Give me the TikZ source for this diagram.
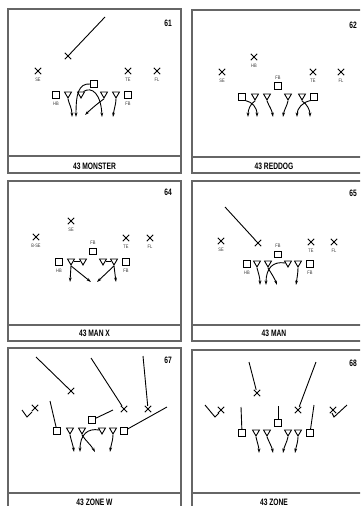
\documentclass[tikz,border=0pt]{standalone}
\usepackage{fontspec}
\usetikzlibrary{shapes.geometric,shapes.misc,arrows.meta}
\newfontfamily\capfamily[FakeStretch=0.72]{Liberation Sans}
\newfontfamily\labfamily[FakeStretch=0.8]{Liberation Sans}
\tikzset{
 pl/.style={draw, line width=0.9pt, inner sep=0pt},
 xm/.style={pl, cross out, minimum size=5.5pt},
 sq/.style={pl, rectangle, minimum size=6.3pt},
 tri/.style={pl, regular polygon, regular polygon sides=3, shape border rotate=180, minimum size=8pt},
 lab/.style={font=\labfamily\fontsize{5}{5}\selectfont, inner sep=0pt, text=black!80},
 mv/.style={line width=0.9pt, -{Stealth[length=4.5pt,width=2.8pt]}},
 ln/.style={line width=0.9pt},
 pframe/.style={draw=black!60, line width=1.3pt},
 sepl/.style={draw=black!60, line width=1.1pt},
 captxt/.style={font=\capfamily\bfseries\fontsize{9.3}{10}\selectfont, inner sep=0pt},
 numtxt/.style={font=\capfamily\bfseries\fontsize{9.3}{10}\selectfont, inner sep=0pt},
}
\begin{document}
\begin{tikzpicture}[x=1pt,y=-1pt]
\useasboundingbox (0,0) rectangle (360,506);
\clip (0,0) rectangle (360,506);
% frames
\draw[pframe] (8,9) rectangle (181,173);
\draw[sepl] (8,156) -- (181,156);
\draw[pframe] (192,10) rectangle (364,173);
\draw[sepl] (192,157) -- (364,157);
\draw[pframe] (8,181) rectangle (181,341);
\draw[sepl] (8,325) -- (181,325);
\draw[pframe] (192,181) rectangle (364,341);
\draw[sepl] (192,325) -- (364,325);
\draw[pframe] (8,348) rectangle (181,515);
\draw[sepl] (8,493) -- (181,493);
\draw[pframe] (192,350) rectangle (364,515);
\draw[sepl] (192,493) -- (364,493);

% ===== Panel 61 =====
\node[numtxt] (n61) at (168,23) {61};
\node[captxt] (c61) at (94.5,166) {43 MONSTER};
\node[xm] (a-x) at (68,56) {};
\coordinate (a-xe) at (105,17);
\draw[ln] (a-x) -- (a-xe);
\node[xm] (a-se) at (38,71) {};
\node[lab] (a-sel) at (38,79.5) {SE};
\node[xm] (a-te) at (128,71) {};
\node[lab] (a-tel) at (128,79.5) {TE};
\node[xm] (a-fl) at (157,71) {};
\node[lab] (a-fll) at (157,79.5) {FL};
\node[sq] (a-q) at (94,84) {};
\node[sq] (a-hb) at (56,95) {};
\node[lab] (a-hbl) at (56,103.5) {HB};
\node[tri] (a-t1) at (68,94) {};
\node[tri] (a-t2) at (81,94) {};
\node[tri] (a-t3) at (104,94) {};
\node[tri] (a-t4) at (116,94) {};
\node[sq] (a-fb) at (128,95) {};
\node[lab] (a-fbl) at (128,103.5) {FB};
\coordinate (a-e1) at (72,117);
\coordinate (a-e2) at (76,117);
\coordinate (a-e3) at (102,117);
\coordinate (a-e4) at (85,115);
\coordinate (a-e5) at (113,117);
\draw[mv] (a-t1.south) .. controls (69,104) and (72,108) .. (a-e1);
\draw[mv] (a-q.west) .. controls (78,83) and (76,95) .. (a-e2);
\draw[mv] (a-t2.north east) .. controls (92,86) and (101,94) .. (a-e3);
\draw[mv] (a-t3.south) .. controls (98,103) and (90,110) .. (a-e4);
\draw[mv] (a-t4.south) .. controls (116,104) and (114,109) .. (a-e5);

% ===== Panel 62 =====
\node[numtxt] (n62) at (353,25) {62};
\node[captxt] (c62) at (274,166) {43 REDDOG};
\node[xm] (b-hb) at (254,57) {};
\node[lab] (b-hbl) at (254,65.5) {HB};
\node[xm] (b-se) at (222,72) {};
\node[lab] (b-sel) at (222,80.5) {SE};
\node[xm] (b-te) at (313,72) {};
\node[lab] (b-tel) at (313,80.5) {TE};
\node[xm] (b-fl) at (341,72) {};
\node[lab] (b-fll) at (341,80.5) {FL};
\node[lab] (b-fbl) at (278,77.5) {FB};
\node[sq] (b-q) at (278,86) {};
\node[sq] (b-s1) at (242,97) {};
\node[tri] (b-t1) at (255,96) {};
\node[tri] (b-t2) at (267,96) {};
\node[tri] (b-t3) at (288,96) {};
\node[tri] (b-t4) at (302,96) {};
\node[sq] (b-s2) at (314,97) {};
\coordinate (b-e1) at (257,117);
\coordinate (b-e2) at (248,117);
\coordinate (b-e3) at (273,117);
\coordinate (b-e4) at (283,117);
\coordinate (b-e5) at (310,117);
\coordinate (b-e6) at (297,117);
\draw[mv] (b-s1.south east) .. controls (252,102) and (257,107) .. (b-e1);
\draw[mv] (b-t1.south) .. controls (250,104) and (248,110) .. (b-e2);
\draw[mv] (b-t2.south) .. controls (269,106) and (272,110) .. (b-e3);
\draw[mv] (b-t3.south) .. controls (287,106) and (284,110) .. (b-e4);
\draw[mv] (b-t4.south) .. controls (307,104) and (310,110) .. (b-e5);
\draw[mv] (b-s2.south west) .. controls (303,102) and (297,108) .. (b-e6);

% ===== Panel 64 =====
\node[numtxt] (n64) at (168,192) {64};
\node[captxt] (c64) at (94.5,333) {43 MAN X};
\node[xm] (c-se) at (71,221) {};
\node[lab] (c-sel) at (71,229.5) {SE};
\node[xm] (c-bse) at (36,237) {};
\node[lab] (c-bsel) at (36,245.5) {B-SE};
\node[xm] (c-te) at (126,238) {};
\node[lab] (c-tel) at (126,246.5) {TE};
\node[xm] (c-fl) at (150,238) {};
\node[lab] (c-fll) at (150,246.5) {FL};
\node[lab] (c-fbl) at (93,243) {FB};
\node[sq] (c-q) at (93,251.5) {};
\node[sq] (c-hb) at (59,262) {};
\node[lab] (c-hbl) at (59,270.5) {HB};
\node[tri] (c-t1) at (71,261) {};
\node[tri] (c-t2) at (83,261) {};
\node[tri] (c-t3) at (103,261) {};
\node[tri] (c-t4) at (114,261) {};
\node[sq] (c-fb) at (126,262) {};
\node[lab] (c-fbl2) at (126,270.5) {FB};
\coordinate (c-e1) at (70,282);
\coordinate (c-e2) at (91,282);
\coordinate (c-e3) at (116,282);
\coordinate (c-e4) at (97,282);
\draw[ln] (c-t1.east) -- (c-t2.west);
\draw[ln] (c-t3.east) -- (c-t4.west);
\draw[mv] (c-t1.south) -- (c-e1);
\draw[mv] (c-t1.south) -- (c-e2);
\draw[mv] (c-t4.south) -- (c-e3);
\draw[mv] (c-t4.south) -- (c-e4);

% ===== Panel 65 =====
\node[numtxt] (n65) at (353,193) {65};
\node[captxt] (c65) at (274,333) {43 MAN};
\node[xm] (d-x) at (258,243) {};
\coordinate (d-xe) at (225,207);
\draw[ln] (d-x) -- (d-xe);
\node[xm] (d-se) at (221,241) {};
\node[lab] (d-sel) at (221,249.5) {SE};
\node[xm] (d-te) at (311,242) {};
\node[lab] (d-tel) at (311,250.5) {TE};
\node[xm] (d-fl) at (334,242) {};
\node[lab] (d-fll) at (334,250.5) {FL};
\node[lab] (d-fbl) at (278,246) {FB};
\node[sq] (d-q) at (278,254.5) {};
\node[sq] (d-hb) at (247,264) {};
\node[lab] (d-hbl) at (247,272.5) {HB};
\node[tri] (d-t1) at (257,263) {};
\node[tri] (d-t2) at (268,263) {};
\node[tri] (d-t3) at (288,263) {};
\node[tri] (d-t4) at (298,263) {};
\node[sq] (d-fb) at (310,264) {};
\node[lab] (d-fbl2) at (310,272.5) {FB};
\coordinate (d-e1) at (260,285);
\coordinate (d-e2) at (277,285);
\coordinate (d-e3) at (266,285);
\coordinate (d-e4) at (296,285);
\draw[mv] (d-t1.south) .. controls (258,272) and (260,277) .. (d-e1);
\draw[mv] (d-t2.south) .. controls (271,273) and (275,279) .. (d-e2);
\draw[mv] (d-t3.west) .. controls (273,261) and (266,268) .. (d-e3);
\draw[mv] (d-t4.south) .. controls (298,273) and (297,278) .. (d-e4);

% ===== Panel 67 =====
\node[numtxt] (n67) at (168,360) {67};
\node[captxt] (c67) at (94.5,502) {43 ZONE W};
\node[xm] (e-x1) at (71,391) {};
\coordinate (e-x1e) at (36,357);
\draw[ln] (e-x1) -- (e-x1e);
\node[xm] (e-x2) at (124,409) {};
\coordinate (e-x2e) at (91,358);
\draw[ln] (e-x2) -- (e-x2e);
\node[xm] (e-x3) at (148,409) {};
\coordinate (e-x3e) at (143,356);
\draw[ln] (e-x3) -- (e-x3e);
\node[xm] (e-x4) at (35,408) {};
\coordinate (e-v1) at (22,410);
\coordinate (e-v2) at (27,417);
\coordinate (e-v3) at (32,412);
\draw[ln] (e-v1) -- (e-v2) -- (e-v3);
\node[sq] (e-s1) at (57,431) {};
\coordinate (e-s1e) at (50,401);
\draw[ln] (e-s1) -- (e-s1e);
\node[sq] (e-q) at (92,420) {};
\coordinate (e-qe) at (113,410);
\draw[ln] (e-q) -- (e-qe);
\node[tri] (e-t1) at (70,430) {};
\node[tri] (e-t2) at (82,430) {};
\node[tri] (e-t3) at (102,430) {};
\node[tri] (e-t4) at (113,430) {};
\node[sq] (e-s2) at (124,431) {};
\coordinate (e-s2e) at (167,407);
\draw[ln] (e-s2) -- (e-s2e);
\coordinate (e-e1) at (74,452);
\coordinate (e-e2) at (95,452);
\coordinate (e-e3) at (80,452);
\coordinate (e-e4) at (110,452);
\draw[mv] (e-t1.south) .. controls (71,440) and (73,445) .. (e-e1);
\draw[mv] (e-t2.south) .. controls (85,440) and (91,445) .. (e-e2);
\draw[mv] (e-t3.west) .. controls (88,428) and (80,434) .. (e-e3);
\draw[mv] (e-t4.south) .. controls (113,440) and (111,445) .. (e-e4);

% ===== Panel 68 =====
\node[numtxt] (n68) at (353,363) {68};
\node[captxt] (c68) at (274,502) {43 ZONE};
\node[xm] (f-x1) at (257,393) {};
\coordinate (f-x1e) at (249,362);
\draw[ln] (f-x1) -- (f-x1e);
\node[xm] (f-x2) at (298,410) {};
\coordinate (f-x2e) at (316,362);
\draw[ln] (f-x2) -- (f-x2e);
\node[xm] (f-x3) at (221,410) {};
\coordinate (f-v1) at (205,405);
\coordinate (f-v2) at (215,417);
\coordinate (f-v3) at (219,413);
\draw[ln] (f-v1) -- (f-v2) -- (f-v3);
\node[xm] (f-x4) at (333,410) {};
\coordinate (f-w1) at (332,413);
\coordinate (f-w2) at (334,417);
\coordinate (f-w3) at (347,405);
\draw[ln] (f-w1) -- (f-w2) -- (f-w3);
\node[sq] (f-s1) at (242,433) {};
\coordinate (f-s1e) at (241,407);
\draw[ln] (f-s1) -- (f-s1e);
\node[sq] (f-q) at (278,423) {};
\coordinate (f-qe) at (278,406);
\draw[ln] (f-q) -- (f-qe);
\node[sq] (f-s2) at (310,433) {};
\coordinate (f-s2e) at (314,405);
\draw[ln] (f-s2) -- (f-s2e);
\node[tri] (f-t1) at (256,432) {};
\node[tri] (f-t2) at (267,432) {};
\node[tri] (f-t3) at (288,432) {};
\node[tri] (f-t4) at (298,432) {};
\coordinate (f-e1) at (259,453);
\coordinate (f-e2) at (273,453);
\coordinate (f-e3) at (283,453);
\coordinate (f-e4) at (295,453);
\draw[mv] (f-t1.south) .. controls (257,442) and (259,447) .. (f-e1);
\draw[mv] (f-t2.south) .. controls (269,442) and (272,447) .. (f-e2);
\draw[mv] (f-t3.south) .. controls (287,442) and (284,447) .. (f-e3);
\draw[mv] (f-t4.south) .. controls (298,442) and (296,447) .. (f-e4);
\end{tikzpicture}
\end{document}
